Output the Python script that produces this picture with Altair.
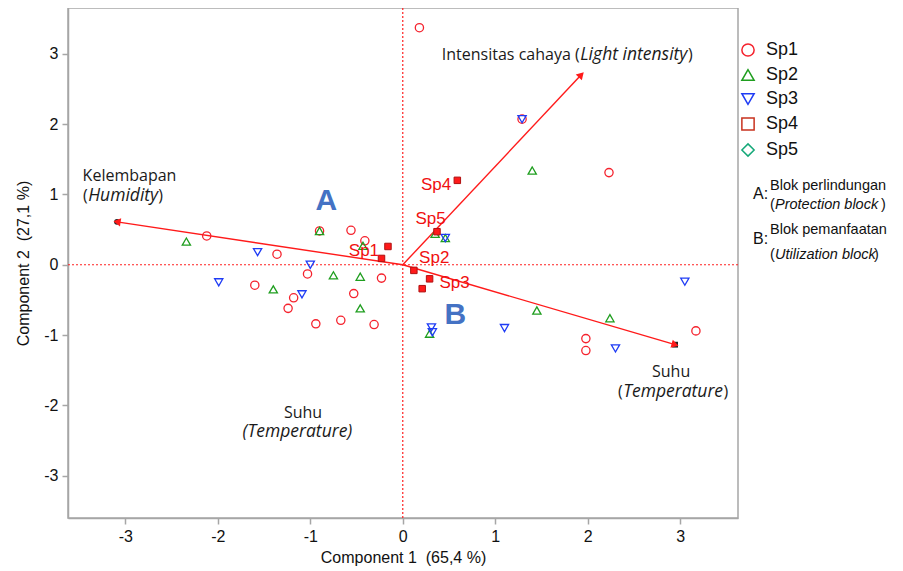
import math
import altair as alt
import pandas as pd

# ---------------- data ----------------
species = ["Sp1", "Sp2", "Sp3", "Sp4", "Sp5"]

sp1_x = [0.18, 2.23, 1.29, -2.12, -1.36, -0.90, -0.56, -0.41, -0.23, -1.03,
         -1.60, -0.53, -1.18, -1.24, -0.94, -0.67, -0.31, 1.98, 1.98, 3.17]
sp1_y = [3.37, 1.31, 2.07, 0.41, 0.15, 0.48, 0.49, 0.34, -0.19, -0.13,
         -0.29, -0.41, -0.47, -0.62, -0.84, -0.79, -0.85, -1.05, -1.22, -0.94]

sp2_x = [-2.34, -0.90, -0.43, -0.75, -0.46, -1.40, -0.46, 0.35, 0.46, 1.40, 1.45, 2.24, 0.29]
sp2_y = [0.33, 0.48, 0.27, -0.15, -0.17, -0.35, -0.62, 0.44, 0.38, 1.34, -0.65, -0.76, -0.98]

sp3_x = [-1.57, -1.00, -1.99, -1.09, 0.46, 1.29, 1.10, 0.31, 0.32, 2.30, 3.05]
sp3_y = [0.18, 0.00, -0.25, -0.42, 0.38, 2.07, -0.90, -0.89, -0.96, -1.19, -0.24]

# filled red squares
sq_x = [0.59, 0.37, -0.16, -0.23, 0.12, 0.29, 0.21]
sq_y = [1.20, 0.47, 0.26, 0.09, -0.08, -0.20, -0.34]

# species labels
lab_text = ["Sp1", "Sp2", "Sp3", "Sp4", "Sp5"]
lab_x = [-0.42, 0.34, 0.56, 0.36, 0.30]
lab_y = [0.20, 0.10, -0.26, 1.14, 0.65]

# loading vectors
vec_name = ["Kelembapan", "Intensitas cahaya", "Suhu"]
vec_x = [-3.09, 1.93, 2.945]
vec_y = [0.61, 2.70, -1.136]

x_ticks = [-3, -2, -1, 0, 1, 2, 3]
y_ticks = [-3, -2, -1, 0, 1, 2, 3]

# ---------------- layout ----------------
W, H = 670, 510
XDOM = [-3.62, 3.625]
YDOM = [-3.60, 3.65]
GRAY = "#a6a6a6"
AXFONT = "Liberation Sans"
ANFONT = "Open Sans"

xscale = alt.Scale(domain=XDOM, nice=False, zero=False)
yscale = alt.Scale(domain=YDOM, nice=False, zero=False)
xaxis = alt.Axis(values=x_ticks, title="Component 1\u00a0\u00a0(65,4 %)", grid=False,
                 labelExpr="datum.value + ''")
yaxis = alt.Axis(values=y_ticks, title="Component 2\u00a0\u00a0(27,1 %)", grid=False,
                 labelExpr="datum.value + ''")


def X(f):
    return alt.X(f, type="quantitative", scale=xscale, axis=xaxis)


def Y(f):
    return alt.Y(f, type="quantitative", scale=yscale, axis=yaxis)


pts = pd.DataFrame({
    "x": sp1_x + sp2_x + sp3_x,
    "y": sp1_y + sp2_y + sp3_y,
    "sp": ["Sp1"] * len(sp1_x) + ["Sp2"] * len(sp2_x) + ["Sp3"] * len(sp3_x),
})
sq = pd.DataFrame({"x": sq_x, "y": sq_y})
labs = pd.DataFrame({"x": lab_x, "y": lab_y, "t": lab_text})

sx = W / (XDOM[1] - XDOM[0])
sy = H / (YDOM[1] - YDOM[0])
vec = pd.DataFrame({
    "x0": [0.0] * len(vec_x), "y0": [0.0] * len(vec_x),
    "x": vec_x, "y": vec_y, "name": vec_name,
    "ang": [math.degrees(math.atan2(a * sx, b * sy)) % 360 for a, b in zip(vec_x, vec_y)],
})

colors = ["#f5222d", "#1f9e1f", "#1f3cf5", "#c8321e", "#14a878"]
shapes = ["circle", "triangle-up", "triangle-down", "square", "diamond"]

zero_v = alt.Chart(pd.DataFrame({"x": [0]})).mark_rule(
    color="#ff2020", strokeDash=[2, 2], strokeWidth=1.2).encode(x=X("x"))
zero_h = alt.Chart(pd.DataFrame({"y": [0]})).mark_rule(
    color="#ff2020", strokeDash=[2, 2], strokeWidth=1.2).encode(y=Y("y"))

arrows = alt.Chart(vec).mark_rule(color="#ff1a1a", strokeWidth=1.4).encode(
    x=X("x0"), y=Y("y0"), x2="x:Q", y2="y:Q")
tip_hum = alt.Chart(vec).transform_filter(alt.datum.name == "Kelembapan").mark_point(
    shape="circle", filled=True, color="#222222", size=34, opacity=1).encode(
    x=X("x"), y=Y("y"))
tip_tmp = alt.Chart(vec).transform_filter(alt.datum.name == "Suhu").mark_point(
    shape="square", filled=True, color="#222222", size=34, opacity=1).encode(
    x=X("x"), y=Y("y"))
heads = alt.Chart(vec).mark_point(shape="triangle-up", filled=True, color="#ff1a1a",
                                  size=70, opacity=1).encode(
    x=X("x"), y=Y("y"), angle=alt.Angle("ang:Q", scale=None))

scatter = alt.Chart(pts).mark_point(filled=False, size=68, strokeWidth=1.3, opacity=1).encode(
    x=X("x"), y=Y("y"),
    color=alt.Color("sp:N", scale=alt.Scale(domain=species, range=colors), title=None),
    shape=alt.Shape("sp:N", scale=alt.Scale(domain=species, range=shapes), title=None),
)

squares = alt.Chart(sq).mark_point(shape="square", filled=True, size=42, color="#ff1a1a",
                                   stroke="#b01010", strokeWidth=1, opacity=1).encode(
    x=X("x"), y=Y("y"))

labels = alt.Chart(labs).mark_text(color="#f01010", fontSize=17, font=AXFONT,
                                   align="center", baseline="middle").encode(
    x=X("x"), y=Y("y"), text="t:N")

# ---------------- annotations ----------------
# (text, x, y, align, italic)
ANNOT = [
    ("Kelembapan", -3.462, 1.193, "left", False),
    ("(", -3.408, 0.909, "right", False),
    ("Humidity", -3.402, 0.909, "left", True),
    (")", -2.645, 0.909, "left", False),
    ("Intensitas cahaya (", 1.913, 2.911, "right", False),
    ("Light intensity", 1.919, 2.911, "left", True),
    (")", 3.085, 2.911, "left", False),
    ("Suhu", 2.902, -1.590, "center", False),
    ("(", 2.378, -1.874, "right", False),
    ("Temperature", 2.384, -1.874, "left", True),
    (")", 3.468, -1.874, "left", False),
    ("Suhu", -1.079, -2.172, "center", False),
    ("(Temperature)", -1.139, -2.442, "center", True),
]
ann_layers = []
for t, ax, ay, al, it in ANNOT:
    ann_layers.append(
        alt.Chart(pd.DataFrame({"x": [ax], "y": [ay], "t": [t]})).mark_text(
            align=al, baseline="alphabetic", font=ANFONT,
            fontSize=17.5 if it else 16,
            fontStyle="italic" if it else "normal", color="#1a1a1a").encode(
            x=X("x"), y=Y("y"), text="t:N"))

for t, ax, ay in [("A", -0.826, 0.909), ("B", 0.568, -0.71)]:
    ann_layers.append(
        alt.Chart(pd.DataFrame({"x": [ax], "y": [ay], "t": [t]})).mark_text(
            align="center", baseline="middle", font=AXFONT, fontSize=30,
            fontWeight="bold", color="#4472c4").encode(
            x=X("x"), y=Y("y"), text="t:N"))

# notes at the right (pixel positions relative to the plot area)
NOTES = [
    ("A:", 685, 191, False, 16),
    ("Blok perlindungan", 702, 182, False, 14.5),
    ("(", 702, 201, False, 14.5),
    ("Protection block", 707, 201, True, 14.5),
    (")", 813, 201, False, 14.5),
    ("B:", 685, 236, False, 16),
    ("Blok pemanfaatan", 702, 226, False, 14.5),
    ("(", 702, 251, False, 14.5),
    ("Utilization block", 707, 251, True, 14.5),
    (")", 806, 251, False, 14.5),
]
note_layers = []
for t, px, py, it, fs in NOTES:
    note_layers.append(
        alt.Chart(pd.DataFrame({"t": [t]})).mark_text(
            align="left", baseline="alphabetic", font=AXFONT, fontSize=fs,
            fontStyle="italic" if it else "normal", color="#111111").encode(
            x=alt.value(px), y=alt.value(py), text="t:N"))

chart = alt.layer(
    zero_v, zero_h, arrows, tip_hum, tip_tmp, heads, scatter, squares, labels,
    *ann_layers, *note_layers
).properties(
    width=W, height=H,
    autosize=alt.AutoSizeParams(type="none"),
    padding={"left": 60, "top": 0, "right": 157, "bottom": 52},
).configure_view(
    stroke=GRAY, strokeWidth=1.5
).configure_axis(
    domainColor=GRAY, domainWidth=1.5, tickColor=GRAY, tickWidth=1.5, tickSize=6,
    labelFont=AXFONT, labelFontSize=16, labelColor="#111111", labelPadding=4,
    titleFont=AXFONT, titleFontSize=16, titleFontWeight="normal", titleColor="#111111",
).configure_axisX(
    titlePadding=5
).configure_axisY(
    titlePadding=12
).configure_legend(
    orient="none", legendX=671, legendY=33, labelFont=AXFONT, labelFontSize=18,
    labelColor="#111111", symbolSize=150, symbolStrokeWidth=1.5, rowPadding=6,
    labelOffset=9, padding=0,
)

chart.save("out.html", embed_options={"renderer": "svg", "actions": False})
